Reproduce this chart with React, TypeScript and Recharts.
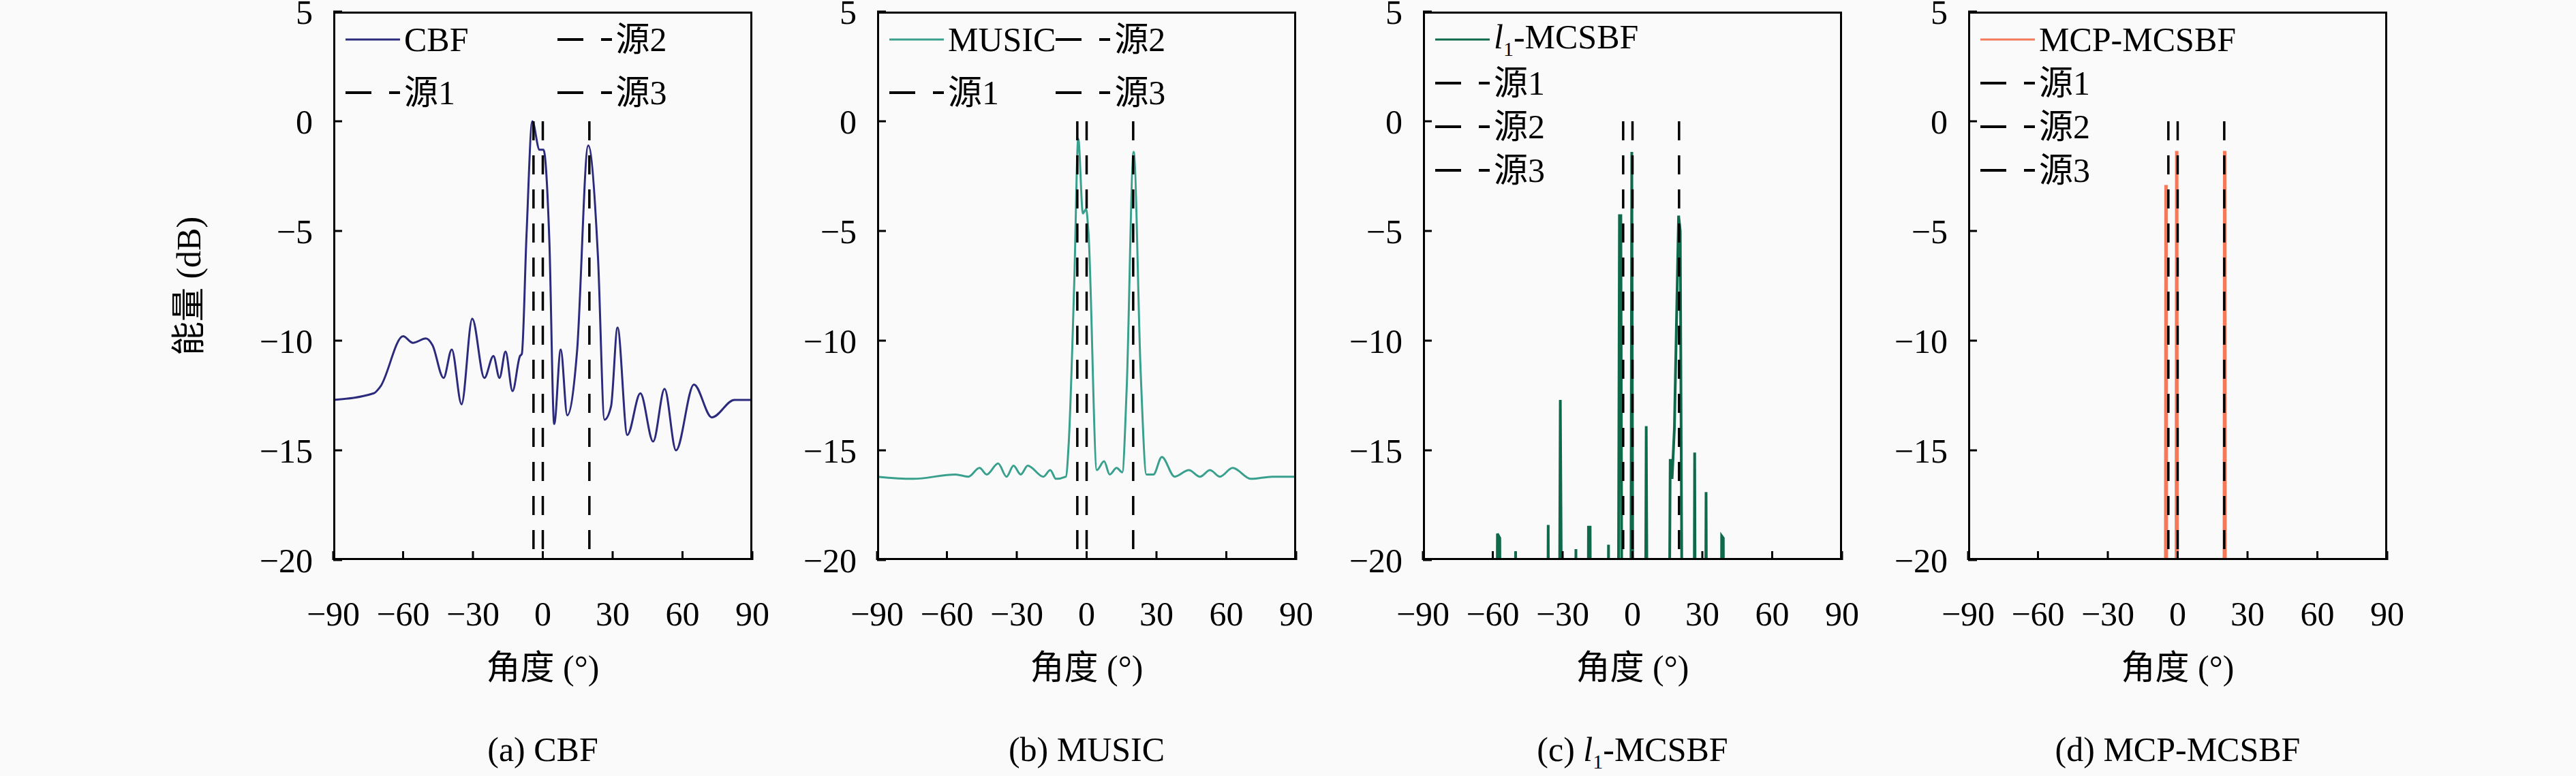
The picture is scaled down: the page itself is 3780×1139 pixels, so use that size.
import React from 'react';
import { LineChart, Line, XAxis, YAxis, ReferenceLine } from 'recharts';

const xTicks = [-90, -60, -30, 0, 30, 60, 90];
const yTicks = [5, 0, -5, -10, -15, -20];
const sources = [-4, 0, 20];
const sourceLabels = ['源1', '源2', '源3'];

const cbfData = [
  [-90, -12.7], [-72.6, -12.4], [-69.8, -12.1], [-60, -9.8], [-55.8, -10.1], [-50.2, -9.9], [-47.4, -10.2],
  [-42.6, -11.7], [-39.1, -10.4], [-34.9, -12.9], [-30.3, -9.0], [-25.1, -11.7], [-21.2, -10.7], [-18.6, -11.7],
  [-16.0, -10.5], [-13, -12.3], [-9.8, -10.7], [-9, -10.6], [-7, -5.2], [-4.5, 0], [-1.4, -1.3], [0.3, -1.3],
  [2.8, -5.4], [4.9, -13.8], [7.7, -10.4], [10.5, -13.4], [14.7, -10.5], [19.5, -1.1], [23.7, -6.2], [26.5, -13.6],
  [29.3, -13.0], [32.1, -9.4], [36.3, -14.3], [41.9, -12.4], [47.4, -14.6], [52.3, -12.2], [57.2, -15.0],
  [64.9, -12.0], [72.6, -13.5], [82.3, -12.7], [90, -12.7],
];
const musicData = [
  [-90, -16.2], [-74.5, -16.3], [-56.3, -16.1], [-50.8, -16.2], [-46, -15.8], [-42.9, -16.1], [-38, -15.6],
  [-34.4, -16.2], [-31.4, -15.7], [-28.3, -16.1], [-25.3, -15.7], [-18.6, -16.2], [-15.6, -15.9], [-13.2, -16.3],
  [-8.9, -16.2], [-7.7, -14.7], [-5.3, -7.3], [-3.6, -0.8], [-1.6, -4.2], [-0.2, -4.0], [0.8, -5.1], [4.4, -15.9],
  [7.5, -15.5], [9.9, -16.1], [12.9, -15.8], [15.3, -16.0], [17.2, -12.2], [20.2, -1.4], [23.2, -11.4],
  [25.7, -16.1], [28.7, -16.1], [32.3, -15.3], [37.8, -16.2], [43.9, -15.9], [48.7, -16.2], [53, -15.9],
  [57.2, -16.2], [62.7, -15.8], [70.6, -16.3], [79.7, -16.2], [90, -16.2],
];
const l1Data = [
  [-90, -40], [-59, -40], [-58, -18.8], [-57, -19], [-56, -40], [-51, -40], [-50.2, -19.6], [-49.5, -40],
  [-37, -40], [-36.2, -18.4], [-35.4, -40], [-32, -40], [-31, -12.7], [-29.5, -40], [-25, -40], [-24.3, -19.5],
  [-23.6, -40], [-19.5, -40], [-18.9, -18.5], [-18.2, -18.5], [-17.5, -40], [-11, -40], [-10.3, -19.3],
  [-9.6, -40], [-6.5, -40], [-5.6, -4.3], [-5, -4.3], [-4.2, -40], [-1, -40], [-0.3, -1.4], [0.5, -40],
  [5, -40], [5.9, -13.9], [7, -40], [15, -40], [16.2, -15.4], [17, -16.3], [18, -14], [19.8, -4.3], [20.5, -5],
  [22, -40], [26, -40], [26.7, -15.1], [27.5, -40], [30.8, -40], [31.6, -16.9], [32.4, -40], [37.6, -40],
  [38.3, -18.9], [39, -19], [39.6, -40], [90, -40],
];
const mcpData = [
  [-90, -40], [-5.3, -40], [-5.0, -2.9], [-4.7, -40], [-0.7, -40], [-0.4, -1.35], [-0.1, -40],
  [19.9, -40], [20.2, -1.35], [20.5, -40], [90, -40],
];

const toPts = (d: number[][]) => d.map(([x, y]) => ({ x, y }));
const FONT = "'Liberation Serif', 'Noto Sans CJK SC', serif";
const minus = (v: number) => String(v).replace('-', '−');

const PLOT_TOP = 17;
const PLOT_H = 805;
const PLOT_W = 615;

type Panel = {
  left: number; data: number[][]; color: string; name: React.ReactNode; caption: React.ReactNode;
  twoCol: boolean; width: number;
};

const l1Name = (<span><i>l</i><sub style={{ fontSize: '60%' }}>1</sub>-MCSBF</span>);
const panels: Panel[] = [
  { left: 489, data: cbfData, color: '#2b2a7c', name: 'CBF', caption: '(a) CBF', twoCol: true, width: 3 },
  { left: 1287, data: musicData, color: '#3aa08e', name: 'MUSIC', caption: '(b) MUSIC', twoCol: true, width: 3 },
  { left: 2088, data: l1Data, color: '#0f6a4a', name: l1Name, caption: (<span>(c) {l1Name}</span>), twoCol: false, width: 4 },
  { left: 2888, data: mcpData, color: '#f4795b', name: 'MCP-MCSBF', caption: '(d) MCP-MCSBF', twoCol: false, width: 5 },
];

const Sample = ({ dashed, color }: { dashed: boolean; color?: string }) => (
  <svg width={82} height={20} style={{ marginRight: 4 }}>
    {dashed ? (
      <>
        <line x1={0} y1={10} x2={38} y2={10} stroke="#000" strokeWidth={4} />
        <line x1={64} y1={10} x2={80} y2={10} stroke="#000" strokeWidth={4} />
      </>
    ) : (
      <line x1={0} y1={10} x2={80} y2={10} stroke={color} strokeWidth={3} />
    )}
  </svg>
);

const Item = ({ dashed, color, label }: any) => (
  <div style={{ display: 'flex', alignItems: 'center', height: 62, whiteSpace: 'nowrap' }}>
    <Sample dashed={dashed} color={color} />
    <span>{label}</span>
  </div>
);

function PanelLegend({ p }: { p: Panel }) {
  const style: React.CSSProperties = {
    position: 'absolute', left: p.left + 18, top: PLOT_TOP + 10, fontFamily: FONT, fontSize: 50,
    lineHeight: 1, color: '#000',
  };
  if (p.twoCol) {
    return (
      <div style={{ ...style, display: 'flex', gap: 0 }}>
        <div style={{ display: 'flex', flexDirection: 'column', gap: 16, marginRight: p.name === 'CBF' ? 130 : 0 }}>
          <Item dashed={false} color={p.color} label={p.name} />
          <Item dashed label={sourceLabels[0]} />
        </div>
        <div style={{ display: 'flex', flexDirection: 'column', gap: 16 }}>
          <Item dashed label={sourceLabels[1]} />
          <Item dashed label={sourceLabels[2]} />
        </div>
      </div>
    );
  }
  return (
    <div style={{ ...style, display: 'flex', flexDirection: 'column', gap: 2 }}>
      <Item dashed={false} color={p.color} label={p.name} />
      {sourceLabels.map((s) => <Item key={s} dashed label={s} />)}
    </div>
  );
}

const tickStyle = { fill: '#000', fontSize: 50, fontFamily: 'Liberation Serif, serif' };

export default function App() {
  return (
    <div style={{ position: 'absolute', left: 0, top: 0, width: 3780, height: 1139, background: '#fafafa',
      overflow: 'hidden', fontFamily: FONT }}>
      {panels.map((p, i) => (
        <React.Fragment key={i}>
          <div style={{ position: 'absolute', left: p.left - 150, top: 0 }}>
            <LineChart width={150 + PLOT_W + 80} height={PLOT_TOP + PLOT_H + 160}
              margin={{ top: PLOT_TOP, right: 80, left: 0, bottom: 60 }}>
              <XAxis dataKey="x" type="number" domain={[-90, 90]} ticks={xTicks} interval={0} height={100}
                axisLine={false} tickSize={-13} tickMargin={73} tickLine={{ stroke: '#000', strokeWidth: 3 }}
                tickFormatter={minus} tick={tickStyle} />
              <YAxis type="number" domain={[-20, 5]} ticks={yTicks} interval={0} width={150} allowDataOverflow
                axisLine={false} tickSize={-13} tickMargin={43} tickLine={{ stroke: '#000', strokeWidth: 3 }}
                tickFormatter={minus} tick={tickStyle} />
              <Line data={toPts(p.data)} dataKey="y" type={i < 2 ? 'monotone' : 'linear'} stroke={p.color}
                strokeWidth={p.width} dot={false} isAnimationActive={false} />
              {sources.map((s) => (
                <ReferenceLine key={s} segment={[{ x: s, y: 0 }, { x: s, y: -20 }]} stroke="#000"
                  strokeWidth={3.5} strokeDasharray="28 22" />
              ))}
            </LineChart>
          </div>
          <div style={{ position: 'absolute', left: p.left, top: PLOT_TOP, width: PLOT_W, height: PLOT_H,
            border: '3px solid #000', boxSizing: 'border-box', pointerEvents: 'none' }} />
          <PanelLegend p={p} />
          <div style={{ position: 'absolute', left: p.left, width: PLOT_W, top: 955, textAlign: 'center',
            fontFamily: FONT, fontSize: 50, lineHeight: 1 }}>角度 (°)</div>
          <div style={{ position: 'absolute', left: p.left, width: PLOT_W, top: 1075, textAlign: 'center',
            fontFamily: FONT, fontSize: 50, lineHeight: 1 }}>{p.caption}</div>
        </React.Fragment>
      ))}
      <div style={{ position: 'absolute', left: 277 - 150, top: 420 - 30, width: 300, textAlign: 'center',
        fontFamily: FONT, fontSize: 50, lineHeight: '60px', transform: 'rotate(-90deg)' }}>能量 (dB)</div>
    </div>
  );
}
